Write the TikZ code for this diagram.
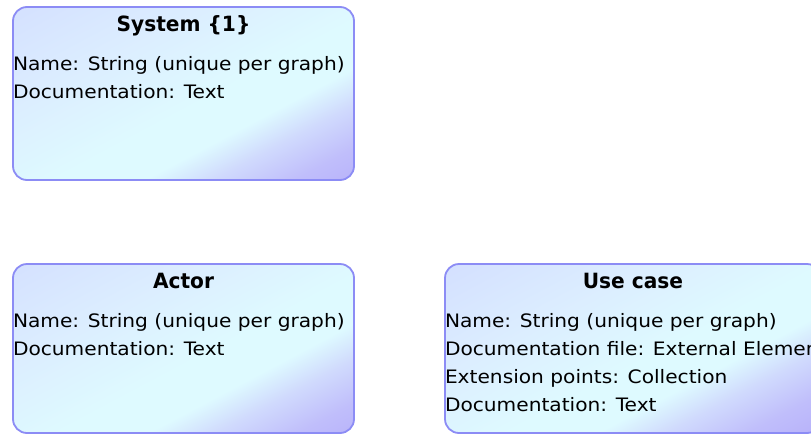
\documentclass[tikz,border=0pt]{standalone}
\usepackage{fontspec}
\newfontfamily\attrfont[FakeStretch=1.09]{DejaVu Sans}
\newfontfamily\titlefont[FakeStretch=0.96]{DejaVu Sans}
\usetikzlibrary{calc}
\definecolor{bordc}{RGB}{140,140,245}
\definecolor{gA}{RGB}{184,178,250}
\definecolor{gB}{RGB}{192,190,251}
\definecolor{gC}{RGB}{208,218,253}
\definecolor{gD}{RGB}{222,250,255}
\definecolor{gE}{RGB}{220,238,255}
\definecolor{gF}{RGB}{212,224,255}
\pgfdeclareverticalshading{boxgrad}{100bp}{color(0bp)=(gA); color(25bp)=(gA); color(30bp)=(gB); color(36bp)=(gC); color(41bp)=(gD); color(47.5bp)=(gD); color(60bp)=(gE); color(75bp)=(gF); color(100bp)=(gF)}
\tikzset{
  umlbox/.style={draw=bordc, line width=1.8pt, rounded corners=14pt, inner sep=0pt, outer sep=0pt, anchor=north west,
    path picture={
      \shade[shading=boxgrad, transform canvas={rotate around={28:(path picture bounding box.center)}}]
        ($(path picture bounding box.center)+(-280,-160)$) rectangle ($(path picture bounding box.center)+(280,160)$);
    }},
  titletext/.style={anchor=base, inner sep=0pt, outer sep=0pt, font=\titlefont\bfseries\fontsize{21}{24}\selectfont, text=black},
  attrtext/.style={anchor=base west, inner sep=0pt, outer sep=0pt, font=\attrfont\fontsize{18.5}{22}\selectfont, text=black},
}
\begin{document}
\begin{tikzpicture}[x=1pt,y=-1pt]
\useasboundingbox (0,0) rectangle (811,434);
\clip (0,0) rectangle (811,434);
% boxes
\node[umlbox, minimum width=341pt, minimum height=173pt] (system) at (13,7) {};
\node[umlbox, minimum width=341pt, minimum height=169pt] (actor) at (13,264) {};
\node[umlbox, minimum width=376pt, minimum height=169pt] (usecase) at (445,264) {};
% System
\node[titletext] (systitle) at (183.5,31) {System \{1\}};
\node[attrtext] (sysname) at (13,70) {Name: String (unique per graph)};
\node[attrtext] (sysdoc) at (13,98) {Documentation: Text};
% Actor
\node[titletext] (acttitle) at (183.5,288) {Actor};
\node[attrtext] (actname) at (13,327) {Name: String (unique per graph)};
\node[attrtext] (actdoc) at (13,355) {Documentation: Text};
% Use case
\node[titletext] (uctitle) at (633,288) {Use case};
\node[attrtext] (ucname) at (445,327) {Name: String (unique per graph)};
\node[attrtext] (ucfile) at (445,355) {Documentation file: External Element};
\node[attrtext] (ucext) at (445,383) {Extension points: Collection};
\node[attrtext] (ucdoc) at (445,411) {Documentation: Text};
\end{tikzpicture}
\end{document}
